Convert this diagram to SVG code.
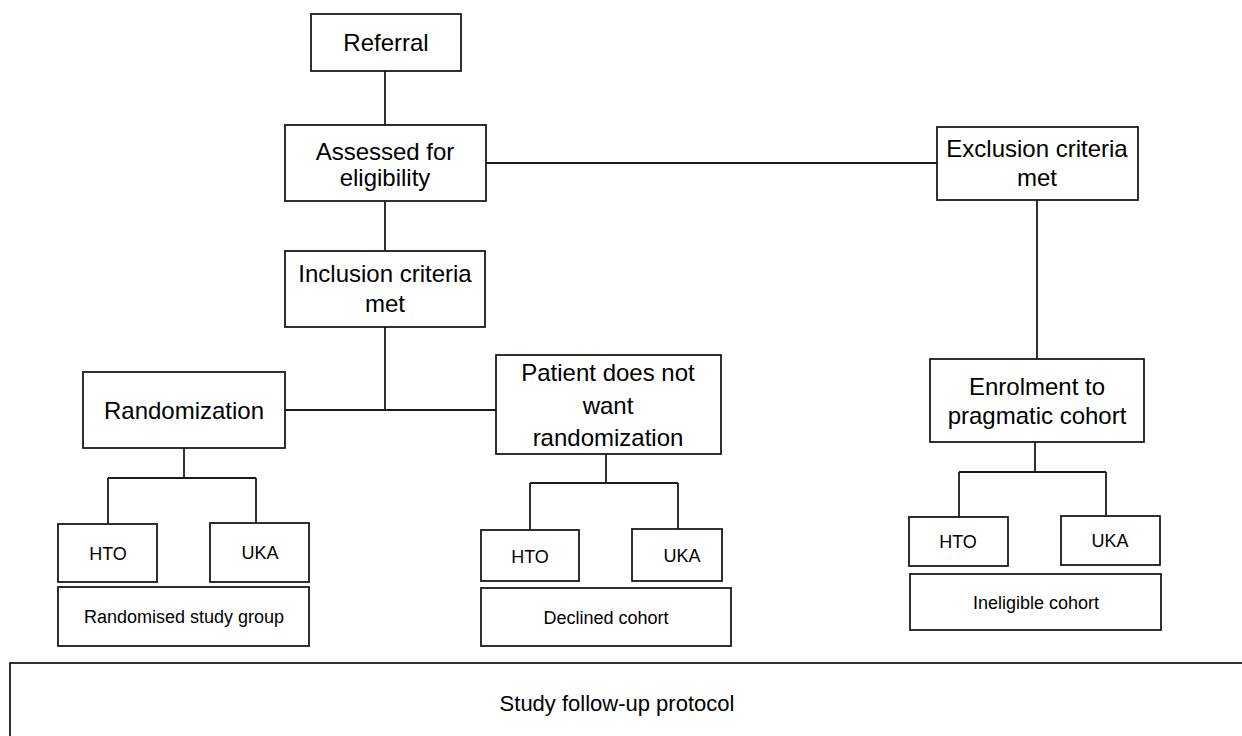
<svg xmlns="http://www.w3.org/2000/svg" width="1242" height="736" viewBox="0 0 1242 736">
<style>
rect{fill:#fff;stroke:#1a1a1a;stroke-width:1.8}
.c line{stroke:#1a1a1a;stroke-width:1.8}
text{font-family:"Liberation Sans",Arial,sans-serif;fill:#000;text-anchor:middle}
.L{font-size:24px}
.S{font-size:18px}
.B{font-size:22px}
</style>
<rect x="0" y="0" width="1242" height="736" style="stroke:none;fill:#fff"/>
<g class="c" id="connectors">
<line x1="385" y1="71" x2="385" y2="125"/>
<line x1="486" y1="163" x2="937" y2="163"/>
<line x1="385" y1="201" x2="385" y2="251"/>
<line x1="385" y1="327" x2="385" y2="410"/>
<line x1="285" y1="410" x2="496" y2="410"/>
<line x1="1037" y1="200" x2="1037" y2="359"/>
<line x1="184" y1="448" x2="184" y2="478"/>
<line x1="108" y1="478" x2="256" y2="478"/>
<line x1="108" y1="478" x2="108" y2="524"/>
<line x1="256" y1="478" x2="256" y2="523"/>
<line x1="606" y1="454" x2="606" y2="483"/>
<line x1="530" y1="483" x2="678" y2="483"/>
<line x1="530" y1="483" x2="530" y2="530"/>
<line x1="678" y1="483" x2="678" y2="529"/>
<line x1="1035" y1="442" x2="1035" y2="472"/>
<line x1="959" y1="472" x2="1106" y2="472"/>
<line x1="959" y1="472" x2="959" y2="517"/>
<line x1="1106" y1="472" x2="1106" y2="516"/>
</g>
<g id="referral"><rect x="311" y="14" width="150" height="57"/><text class="L" x="386" y="51">Referral</text></g>
<g id="assessed"><rect x="285" y="125" width="201" height="76"/><text class="L" x="385" y="160">Assessed for</text><text class="L" x="385" y="186">eligibility</text></g>
<g id="exclusion"><rect x="937" y="127" width="201" height="73"/><text class="L" x="1037" y="157">Exclusion criteria</text><text class="L" x="1037" y="186">met</text></g>
<g id="inclusion"><rect x="285" y="251" width="200" height="76"/><text class="L" x="385" y="282">Inclusion criteria</text><text class="L" x="385" y="312">met</text></g>
<g id="randomization"><rect x="83" y="372" width="202" height="76"/><text class="L" x="184" y="419">Randomization</text></g>
<g id="patient"><rect x="496" y="355" width="225" height="99"/><text class="L" x="608" y="381">Patient does not</text><text class="L" x="608" y="414">want</text><text class="L" x="608" y="446">randomization</text></g>
<g id="enrolment"><rect x="930" y="359" width="214" height="83"/><text class="L" x="1037" y="395">Enrolment to</text><text class="L" x="1037" y="424">pragmatic cohort</text></g>
<g id="r-hto"><rect x="58" y="524" width="99" height="58"/><text class="S" x="108" y="560">HTO</text></g>
<g id="r-uka"><rect x="210" y="523" width="99" height="59"/><text class="S" x="260" y="559">UKA</text></g>
<g id="r-group"><rect x="58" y="587" width="251" height="59"/><text class="S" x="184" y="623">Randomised study group</text></g>
<g id="p-hto"><rect x="481" y="530" width="98" height="51"/><text class="S" x="530" y="563">HTO</text></g>
<g id="p-uka"><rect x="632" y="529" width="90" height="52"/><text class="S" x="682" y="562">UKA</text></g>
<g id="p-group"><rect x="481" y="588" width="250" height="58"/><text class="S" x="606" y="624">Declined cohort</text></g>
<g id="e-hto"><rect x="909" y="517" width="99" height="49"/><text class="S" x="958" y="548">HTO</text></g>
<g id="e-uka"><rect x="1061" y="516" width="99" height="49"/><text class="S" x="1110" y="547">UKA</text></g>
<g id="e-group"><rect x="910" y="574" width="251" height="56"/><text class="S" x="1036" y="609">Ineligible cohort</text></g>
<g id="followup"><rect x="10" y="663" width="1250" height="100"/><text class="B" x="617" y="711">Study follow-up protocol</text></g>
</svg>
